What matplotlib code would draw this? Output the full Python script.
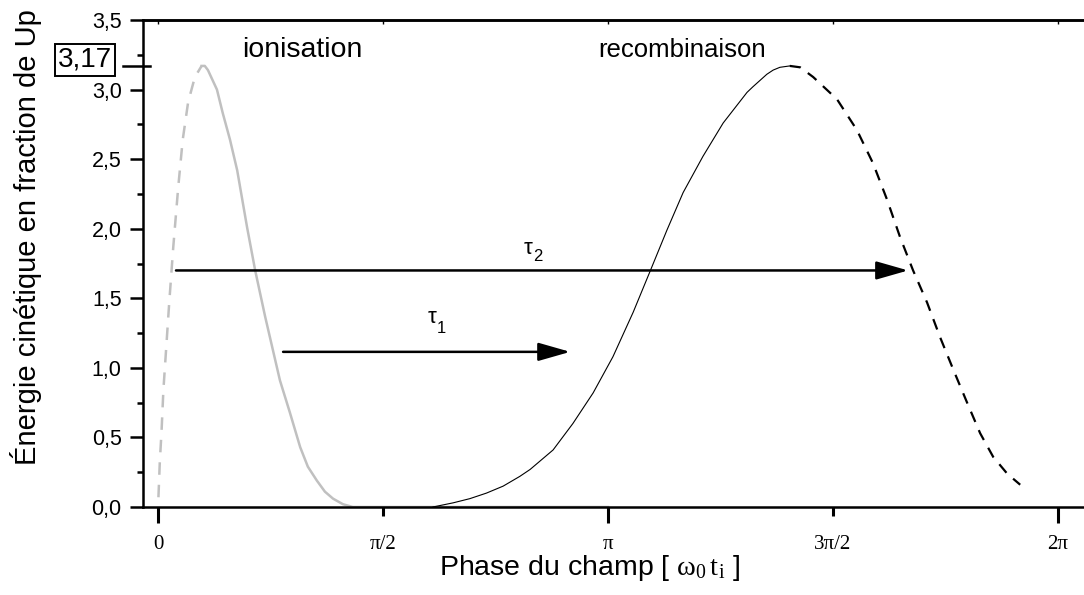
import numpy as np
import matplotlib
matplotlib.use("Agg")
import matplotlib.pyplot as plt
import matplotlib.transforms as mtransforms

plt.rcParams['font.family'] = ['Liberation Sans', 'DejaVu Sans']
plt.rcParams['mathtext.fontset'] = 'custom'
plt.rcParams['mathtext.rm'] = 'Liberation Serif'
plt.rcParams['mathtext.it'] = 'Liberation Serif'

# phases in units of pi, energies in units of Up
ion_dash_x = [0.001, 0.004, 0.008, 0.012, 0.025, 0.034, 0.045, 0.055, 0.067, 0.082, 0.097]
ion_dash_y = [0.07, 0.32, 0.55, 0.84, 1.47, 1.87, 2.30, 2.64, 2.91, 3.09, 3.17]
ion_x = [0.097, 0.104, 0.111, 0.131, 0.144, 0.160, 0.176, 0.198, 0.216, 0.238,
         0.271, 0.293, 0.316, 0.333, 0.353, 0.371, 0.389, 0.411, 0.433, 1.0]
ion_y = [3.17, 3.17, 3.14, 3.00, 2.83, 2.64, 2.42, 2.01, 1.70, 1.37,
         0.91, 0.68, 0.43, 0.29, 0.19, 0.11, 0.06, 0.02, 0.0, 0.0]
rec_x = [0.611, 0.656, 0.693, 0.730, 0.767, 0.804, 0.827, 0.878, 0.922, 0.967,
         1.011, 1.056, 1.093, 1.131, 1.167, 1.211, 1.256, 1.309, 1.322, 1.353,
         1.367, 1.382, 1.404]
rec_y = [0.0, 0.03, 0.06, 0.10, 0.15, 0.22, 0.27, 0.41, 0.60, 0.82,
         1.08, 1.40, 1.69, 1.99, 2.26, 2.52, 2.76, 2.98, 3.02, 3.11,
         3.14, 3.16, 3.17]
rec_dash_x = [1.404, 1.427, 1.456, 1.509, 1.553, 1.589, 1.620, 1.649, 1.678, 1.709,
              1.738, 1.767, 1.798, 1.827, 1.856, 1.887, 1.916]
rec_dash_y = [3.17, 3.16, 3.09, 2.93, 2.71, 2.47, 2.21, 1.94, 1.70, 1.47,
              1.22, 0.99, 0.75, 0.53, 0.36, 0.24, 0.16]

# arrows: start, end (units of pi), height
tau1 = (0.278, 0.916, 1.115)
tau2 = (0.040, 1.667, 1.70)
xtick_pos = [0, 0.5, 1, 1.5, 2]
xtick_lab = ['0', 'π/2', 'π', '3π/2', '2π']
ymax_val = 3.17

fig = plt.figure(figsize=(10.84, 5.95), dpi=100)
ax = fig.add_axes([143/1084, 88/595, 951/1084, 487/595])

gray = '#c0c0c0'
ax.plot(np.array(ion_dash_x)*np.pi, ion_dash_y, color=gray, lw=1.8, ls=(0, (5, 4)))
ax.plot(np.array(ion_x)*np.pi, ion_y, color=gray, lw=1.8, solid_joinstyle='round')
ax.plot(np.array(rec_x)*np.pi, rec_y, color='black', lw=0.8)
ax.plot(np.array(rec_dash_x)*np.pi, rec_dash_y, color='black', lw=1.6, ls=(0, (5, 4)))

for (x0, x1, yv) in (tau1, tau2):
    ax.annotate('', xy=(x1*np.pi, yv), xytext=(x0*np.pi, yv),
                arrowprops=dict(arrowstyle='-|>,head_length=1.4,head_width=0.4',
                                mutation_scale=14, lw=1.8, color='black',
                                shrinkA=0, shrinkB=0))

# tau labels with low subscripts
ax.text(0.609*np.pi, 1.36, 'τ', fontsize=16, ha='center', va='center')
ax.text(0.629*np.pi, 1.28, '1', fontsize=12, ha='center', va='center')
ax.text(0.822*np.pi, 1.856, 'τ', fontsize=16, ha='center', va='center')
ax.text(0.844*np.pi, 1.799, '2', fontsize=12, ha='center', va='center')

ax.text(0.320*np.pi, 3.237, 'ionisation', fontsize=20.5, ha='center', va='baseline')
ax.text(1.164*np.pi, 3.237, 'recombinaison', fontsize=18.5, ha='center', va='baseline')

ax.set_xlim(-0.0333*np.pi, 2.08*np.pi)
ax.set_ylim(0, 3.5)

for s in ('left', 'bottom', 'top'):
    ax.spines[s].set_linewidth(1.8)
ax.spines['right'].set_visible(False)

yt = np.arange(0, 3.51, 0.5)
ax.set_yticks(yt)
ax.set_yticklabels([('%.1f' % v).replace('.', ',') for v in yt])
ax.set_yticks(np.arange(0.25, 3.5, 0.5), minor=True)
ax.tick_params(axis='y', which='major', length=9.4, width=1.8, labelsize=15.5, pad=6)
ax.tick_params(axis='y', which='minor', length=4.5, width=1.8)

ax.set_xticks([xtick_pos[i]*np.pi for i in (0, 2, 4)])
ax.set_xticklabels([xtick_lab[i] for i in (0, 2, 4)])
ax.set_xticks([xtick_pos[i]*np.pi for i in (1, 3)], minor=True)
ax.set_xticklabels([xtick_lab[i] for i in (1, 3)], minor=True)
ax.tick_params(axis='x', which='major', length=11.5, width=2.2, pad=8.5)
ax.tick_params(axis='x', which='minor', length=6.5, width=2.2, pad=13.5)
for lab in ax.get_xticklabels(which='both'):
    lab.set_fontfamily('Liberation Serif')
    lab.set_fontsize(15)

top = ax.secondary_xaxis('top')
top.set_xticks([p*np.pi for p in xtick_pos])
top.tick_params(direction='in', length=3, width=1, labeltop=False)
top.spines['top'].set_linewidth(1.8)

# 3,17 marker
trans = mtransforms.blended_transform_factory(ax.transAxes, ax.transData)
ax.plot([-0.021, 0.0074], [ymax_val, ymax_val], color='black', lw=1.8,
        transform=trans, clip_on=False)
fig.text(85/1084, 1 - 60/595, '3,17', fontsize=20, ha='center', va='center',
         bbox=dict(boxstyle='square,pad=0.1', fc='white', ec='black', lw=1.4))

fig.text(590/1084, 1 - 575/595, r'Phase du champ [ $\mathrm{\omega_0\,t_i}$ ]',
         fontsize=20.5, ha='center', va='baseline')
fig.text(26/1084, 1 - 237/595, 'Énergie cinétique en fraction de Up',
         fontsize=21, rotation=90, ha='center', va='center')

fig.savefig('out.png', dpi=100)
